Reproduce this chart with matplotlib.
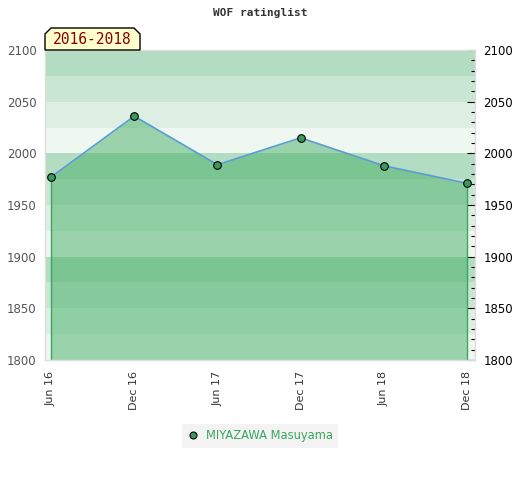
import matplotlib.pyplot as plt
import numpy as np
from matplotlib.patches import Polygon
from matplotlib.lines import Line2D

months = ["Jun 16", "Dec 16", "Jun 17", "Dec 17", "Jun 18", "Dec 18"]
ratings = [1977, 2036, 1989, 2015, 1988, 1971]
player = "MIYAZAWA Masuyama"
period = "2016-2018"
ymin, ymax = 1800, 2100

band_cols = {75: "#b3ddc2", 50: "#c9e6d3", 25: "#dcefe2", 0: "#eff7f1"}

fig = plt.figure(figsize=(5.2, 4.8), dpi=100)
ax = fig.add_axes([45/520, 120/480, 430/520, 310/480])

for lo in range(ymin, ymax, 25):
    ax.axhspan(lo, lo + 25, color=band_cols[lo % 100], lw=0, zorder=0)

x = np.arange(len(months))
ax.fill_between(x, ratings, ymin, color=(60/255, 170/255, 95/255), alpha=0.47, lw=0, zorder=1)
ax.plot([x[0], x[0]], [ymin, ratings[0]], color="#3aa65f", lw=1, zorder=2)
ax.plot([x[-1], x[-1]], [ymin, ratings[-1]], color="#3aa65f", lw=1, zorder=2)
ax.plot(x, ratings, color="#5b9bd5", lw=1.2, zorder=3)
ax.plot(x, ratings, "o", ms=5.5, mfc="#3a9a5b", mec="black", mew=0.8, zorder=4)

ax.set_xlim(-0.072, 5.096)
ax.set_ylim(ymin, ymax)
ax.set_xticks(x)
ax.set_xticklabels(months, rotation=90, fontsize=8, color="#333333")
ax.tick_params(axis="x", length=0, pad=8)
ax.set_yticks(range(ymin, ymax + 1, 50))
ax.tick_params(axis="y", which="both", left=False, right=True, labelleft=True,
               labelright=True, direction="in", labelsize=8.5)
ax.tick_params(axis="y", which="major", length=6, width=0.8, color="black", pad=6)
ax.set_yticks(range(ymin, ymax + 1, 10), minor=True)
ax.tick_params(axis="y", which="minor", length=3, width=0.8, color="black")
for lab in ax.get_yticklabels():
    lab.set_color("#555555")
for t in ax.yaxis.get_major_ticks():
    t.label2.set_color("black")
for s in ax.spines.values():
    s.set_color("#dddddd")
    s.set_linewidth(1)

fig.text(0.5, 1 - 13/480, "WOF ratinglist", ha="center", va="center",
         fontsize=8, family="DejaVu Sans Mono", fontweight="bold", color="#333333")

# period tag box
bx0, bx1, by0, by1 = 45/520, 140/520, 1 - 50/480, 1 - 28/480
c = 6/520
cy = 6/480
box = Polygon([(bx0, by0), (bx0, by1 - cy), (bx0 + c, by1), (bx1 - c, by1),
               (bx1, by1 - cy), (bx1, by0)], closed=True, transform=fig.transFigure,
              facecolor="#ffffcc", edgecolor="black", lw=1, zorder=5)
fig.patches.append(box)
fig.text((bx0 + bx1) / 2, (by0 + by1) / 2 - 1/480, period, ha="center", va="center",
         fontsize=10.5, family="DejaVu Sans Mono", color="#8b0000", zorder=6)

handle = Line2D([], [], ls="none", marker="o", ms=5, mfc="#3a9a5b", mec="black", mew=0.8)
leg = fig.legend([handle], [player], loc="center", bbox_to_anchor=(260/520, 1 - 436/480),
                 frameon=True, fontsize=8.3, handlelength=1, handletextpad=0.6,
                 borderpad=0.45, fancybox=False)
leg.get_frame().set_facecolor("#f0f0f0")
leg.get_frame().set_edgecolor("none")
for t in leg.get_texts():
    t.set_color("#3aa65f")

fig.savefig("out.png", dpi=100)
